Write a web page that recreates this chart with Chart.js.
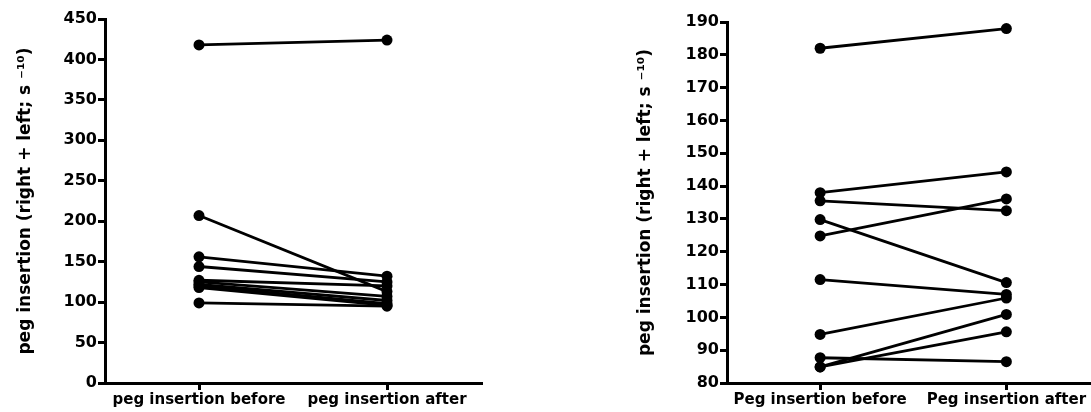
<!DOCTYPE html>
<html>
<head>
<meta charset="utf-8">
<script src="https://cdn.jsdelivr.net/npm/chart.js@4"></script>
<style>
    body { margin: 0; background: #fff; overflow: hidden; }
    .box { position: absolute; top: 0; height: 412px; }
</style>
</head>
<body>
<div class="box" style="left:0; width:540px;"><canvas id="chart1"></canvas></div>
<div class="box" style="left:540px; width:565px;"><canvas id="chart2"></canvas></div>
<script>
const leftLabels = ['peg insertion before', 'peg insertion after'];
const leftBefore = [418, 207, 156, 144, 127, 125, 122, 120, 118, 99];
const leftAfter = [424, 113, 132, 125, 120, 107, 102, 98, 96, 95];
const leftTicks = { min: 0, max: 450, step: 50 };

const rightLabels = ['Peg insertion before', 'Peg insertion after'];
const rightBefore = [182, 138, 135.5, 129.8, 124.8, 111.5, 94.8, 87.7, 84.9, 84.9];
const rightAfter = [188, 144.3, 132.5, 110.6, 136.1, 107, 105.9, 86.5, 100.9, 95.6];
const rightTicks = { min: 80, max: 190, step: 10 };

const yTitle = 'peg insertion (right + left; s \u207B\u00B9\u2070)';
const tickFont = { family: 'DejaVu Sans', size: 16, weight: 'bold' };
const labelFont = { family: 'DejaVu Sans', size: 15, weight: 'bold' };
const titleFont = { family: 'DejaVu Sans', size: 17, weight: 'bold' };

function makeDatasets(before, after) {
    return before.map((b, i) => ({
        data: [b, after[i]],
        borderColor: '#000',
        backgroundColor: '#000',
        borderWidth: 2.8,
        pointRadius: 5.5,
        pointBorderWidth: 0,
        pointBackgroundColor: '#000',
        tension: 0
    }));
}

function makeChart(id, labels, before, after, ticks, pad, yWidth) {
    new Chart(document.getElementById(id).getContext('2d'), {
        type: 'line',
        data: { labels: labels, datasets: makeDatasets(before, after) },
        options: {
            responsive: true,
            maintainAspectRatio: false,
            animation: false,
            layout: { padding: pad },
            plugins: { legend: { display: false }, tooltip: { enabled: false } },
            scales: {
                x: {
                    offset: true,
                    grid: { drawOnChartArea: false, color: '#000', lineWidth: 3, tickLength: 7 },
                    border: { color: '#000', width: 3 },
                    ticks: { color: '#000', font: labelFont, padding: 1, maxRotation: 0, autoSkip: false },
                    afterFit: (s) => { s.height = 29; }
                },
                y: {
                    min: ticks.min,
                    max: ticks.max,
                    grid: { drawOnChartArea: false, color: '#000', lineWidth: 3, tickLength: 7 },
                    border: { color: '#000', width: 3 },
                    ticks: { stepSize: ticks.step, color: '#000', font: tickFont, padding: 1 },
                    title: { display: true, text: yTitle, color: '#000', font: titleFont, padding: { top: 15, bottom: 0 } },
                    afterFit: (s) => { s.width = yWidth; }
                }
            }
        }
    });
}

makeChart('chart1', leftLabels, leftBefore, leftAfter, leftTicks, { left: 0, right: 59, top: 19, bottom: 0 }, 105);
makeChart('chart2', rightLabels, rightBefore, rightAfter, rightTicks, { left: 80, right: 4, top: 22, bottom: 0 }, 107);
</script>
</body>
</html>
